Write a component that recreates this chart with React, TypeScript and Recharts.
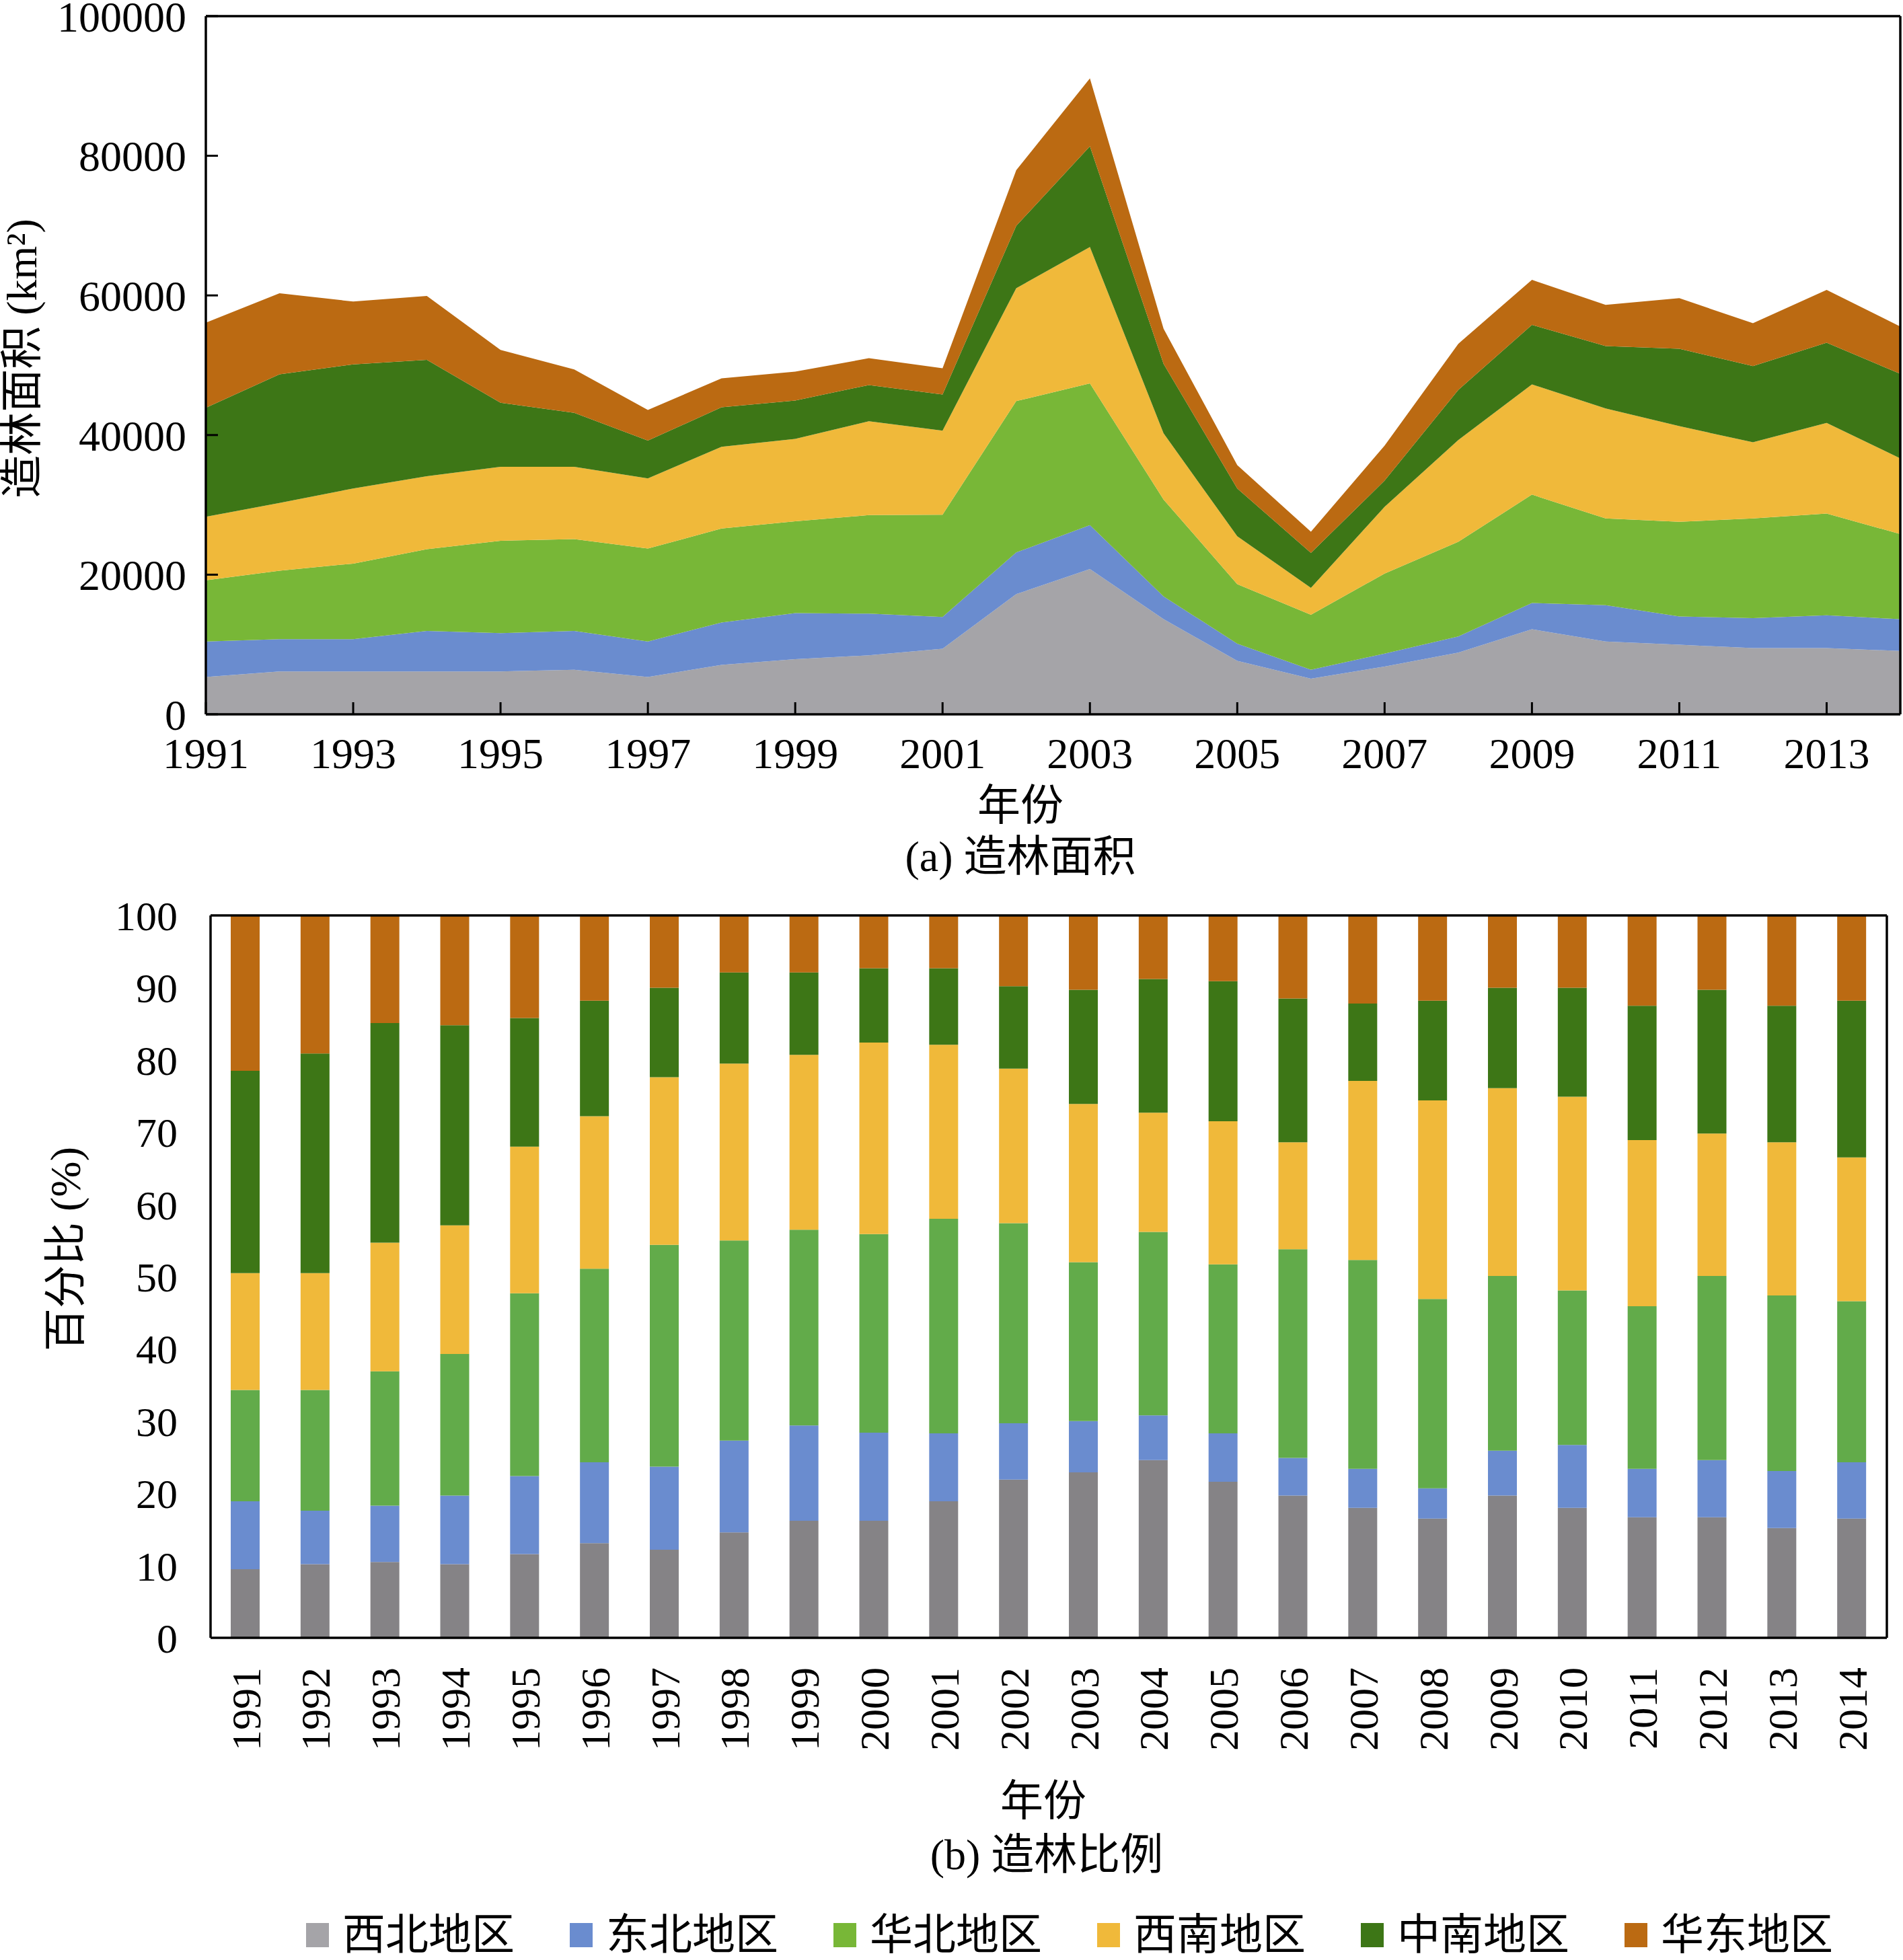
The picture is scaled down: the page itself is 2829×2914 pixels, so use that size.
import React from 'react'
import { AreaChart, Area, BarChart, Bar, XAxis, YAxis } from 'recharts'

const FONT = "'Liberation Serif', 'Noto Sans CJK SC', serif"

const years = [
  1991, 1992, 1993, 1994, 1995, 1996, 1997, 1998, 1999, 2000, 2001, 2002,
  2003, 2004, 2005, 2006, 2007, 2008, 2009, 2010, 2011, 2012, 2013, 2014,
]
const regions = ['西北地区', '东北地区', '华北地区', '西南地区', '中南地区', '华东地区']
const areaColors = ['#a5a4a8', '#6a8ccf', '#78b737', '#f0b93a', '#3d7616', '#bb6a12']
const barColors = ['#858386', '#6a8ccf', '#62ab4a', '#f0b93a', '#3d7616', '#bb6a12']

const areaXTicks = [1991, 1993, 1995, 1997, 1999, 2001, 2003, 2005, 2007, 2009, 2011, 2013]
const areaYTicks = [0, 20000, 40000, 60000, 80000, 100000]
const pctYTicks = [0, 10, 20, 30, 40, 50, 60, 70, 80, 90, 100]

// (a) afforestation area, km2, per region
const northwestArea = [5340, 6140, 6140, 6140, 6140, 6380, 5340, 7090, 7890, 8450, 9400, 17210, 20800, 13630, 7650, 5100, 6850, 8840, 12190, 10440, 9960, 9480, 9480, 9080]
const northeastArea = [5100, 4620, 4620, 5810, 5490, 5570, 5100, 6060, 6610, 5970, 4540, 5980, 6290, 3260, 2470, 1280, 1850, 2320, 3750, 5180, 4060, 4300, 4700, 4550]
const northArea = [8760, 9800, 10830, 11710, 13230, 13150, 13300, 13460, 13150, 14110, 14660, 21670, 20320, 13870, 8530, 7890, 11460, 13540, 15530, 12430, 13550, 14270, 14580, 12190]
const southwestArea = [9090, 9720, 10760, 10440, 10600, 10360, 10040, 11720, 11790, 13460, 12040, 16180, 19520, 9480, 6850, 3830, 9560, 14580, 15780, 15770, 13700, 10910, 12990, 10830]
const centralSouthArea = [15610, 18410, 17770, 16660, 9160, 7730, 5420, 5650, 5500, 5180, 5180, 8920, 14420, 9960, 6850, 5020, 3750, 7170, 8530, 8930, 11080, 10920, 11480, 12110]
const eastArea = [12200, 11630, 9000, 9160, 7570, 6210, 4390, 4150, 4140, 3830, 3740, 7970, 9730, 5020, 3350, 3030, 5020, 6620, 6450, 5900, 7250, 6140, 7570, 6780]

// (b) share of each region, %
const northwestPct = [9.5, 10.2, 10.5, 10.2, 11.6, 13.1, 12.2, 14.6, 16.2, 16.2, 18.9, 21.9, 22.9, 24.6, 21.6, 19.7, 18.0, 16.5, 19.7, 18.0, 16.7, 16.7, 15.2, 16.5]
const northeastPct = [9.4, 7.4, 7.8, 9.5, 10.8, 11.2, 11.5, 12.7, 13.2, 12.2, 9.4, 7.8, 7.1, 6.2, 6.7, 5.2, 5.4, 4.2, 6.2, 8.7, 6.7, 7.9, 7.9, 7.8]
const northPct = [15.4, 16.7, 18.6, 19.6, 25.3, 26.8, 30.7, 27.7, 27.1, 27.5, 29.7, 27.7, 22.0, 25.4, 23.4, 28.9, 28.9, 26.2, 24.2, 21.4, 22.5, 25.5, 24.3, 22.3]
const southwestPct = [16.2, 16.2, 17.8, 17.8, 20.3, 21.1, 23.2, 24.5, 24.2, 26.5, 24.1, 21.4, 21.9, 16.5, 19.8, 14.8, 24.8, 27.5, 26.0, 26.8, 23.0, 19.7, 21.2, 19.9]
const centralSouthPct = [28.0, 30.4, 30.4, 27.7, 17.8, 16.0, 12.4, 12.6, 11.4, 10.3, 10.6, 11.4, 15.8, 18.5, 19.4, 19.9, 10.7, 13.8, 13.9, 15.1, 18.6, 19.9, 18.9, 21.7]
const eastPct = [21.5, 19.1, 14.9, 15.2, 14.2, 11.8, 10.0, 7.9, 7.9, 7.3, 7.3, 9.8, 10.3, 8.8, 9.1, 11.5, 12.2, 11.8, 10.0, 10.0, 12.5, 10.3, 12.5, 11.8]

const areaSeries = [northwestArea, northeastArea, northArea, southwestArea, centralSouthArea, eastArea]
const pctSeries = [northwestPct, northeastPct, northPct, southwestPct, centralSouthPct, eastPct]

const areaRows = years.map((year, i) => {
  const row: Record<string, number> = { year }
  regions.forEach((r, k) => { row[r] = areaSeries[k][i] })
  return row
})

const pctRows = years.map((year, i) => {
  const row: Record<string, number | string> = { year: String(year) }
  regions.forEach((r, k) => { row[r] = pctSeries[k][i] })
  return row
})

const axisLine = { stroke: '#000', strokeWidth: 3.5 }
const tickLine = { stroke: '#000', strokeWidth: 3 }
const tickText = { fill: '#000', fontSize: 64, fontFamily: FONT }

const textStyle: React.CSSProperties = {
  position: 'absolute',
  fontFamily: FONT,
  fontSize: 64,
  color: '#000',
  whiteSpace: 'nowrap',
  lineHeight: 1,
}

function YearTick({ x, y, payload }: any) {
  return (
    <g transform={`translate(${x},${y})`}>
      <text transform="rotate(-90)" textAnchor="end" dy="0.35em" fontSize={62} fontFamily={FONT} fill="#000">
        {payload.value}
      </text>
    </g>
  )
}

function Caption({ x, y, text, rotate }: { x: number; y: number; text: string; rotate?: boolean }) {
  return (
    <div style={{ ...textStyle, left: x, top: y, transform: `translate(-50%, -50%)${rotate ? ' rotate(-90deg)' : ''}` }}>
      {text}
    </div>
  )
}

export default function App() {
  return (
    <div style={{ position: 'absolute', left: 0, top: 0, width: 2829, height: 2914, background: '#fff' }}>
      <div style={{ position: 'absolute', left: 0, top: 0 }}>
        <AreaChart width={2829} height={1170} data={areaRows} margin={{ top: 23, right: 3, left: 0, bottom: 0 }}>
          {regions.map((r, k) => (
            <Area
              key={r} type="linear" dataKey={r} stackId="a"
              stroke="none" fill={areaColors[k]} fillOpacity={1} isAnimationActive={false}
            />
          ))}
          <XAxis
            dataKey="year" type="number" domain={[1991, 2014]} ticks={areaXTicks} interval={0}
            tickSize={-18} tickMargin={53} height={108}
            axisLine={axisLine} tickLine={tickLine} tick={tickText}
          />
          <XAxis xAxisId="top" orientation="top" type="number" domain={[1991, 2014]} height={1} tick={false} tickLine={false} axisLine={axisLine} />
          <YAxis
            type="number" domain={[0, 100000]} ticks={areaYTicks} interval={0}
            tickSize={-18} tickMargin={47} width={306}
            axisLine={axisLine} tickLine={tickLine} tick={tickText}
          />
          <YAxis yAxisId="right" orientation="right" domain={[0, 100000]} width={1} tick={false} tickLine={false} axisLine={axisLine} />
        </AreaChart>
      </div>
      <Caption x={33} y={533} text="造林面积 (km²)" rotate />
      <Caption x={1517} y={1198} text="年份" />
      <Caption x={1517} y={1274} text="(a) 造林面积" />

      <div style={{ position: 'absolute', left: 0, top: 1300 }}>
        <BarChart width={2829} height={1350} data={pctRows} margin={{ top: 60, right: 23, left: 0, bottom: 0 }} barSize={43}>
          {regions.map((r, k) => (
            <Bar key={r} dataKey={r} stackId="p" fill={barColors[k]} isAnimationActive={false} />
          ))}
          <XAxis
            dataKey="year" interval={0} tickSize={0} tickMargin={44} height={215}
            axisLine={axisLine} tickLine={false} tick={(p: any) => <YearTick {...p} />}
          />
          <XAxis xAxisId="top" orientation="top" dataKey="year" height={1} tick={false} tickLine={false} axisLine={axisLine} />
          <YAxis
            type="number" domain={[0, 100]} ticks={pctYTicks} interval={0}
            tickSize={0} tickMargin={49} width={313}
            axisLine={axisLine} tickLine={false} tick={{ ...tickText, fontSize: 62 }}
          />
          <YAxis yAxisId="right" orientation="right" domain={[0, 100]} width={1} tick={false} tickLine={false} axisLine={axisLine} />
        </BarChart>
      </div>
      <Caption x={98} y={1857} text="百分比 (%)" rotate />
      <Caption x={1551} y={2678} text="年份" />
      <Caption x={1556} y={2758} text="(b) 造林比例" />

      <div style={{ position: 'absolute', left: 455, top: 2877, transform: 'translateY(-50%)', display: 'flex', alignItems: 'center', gap: 82 }}>
        {regions.map((r, k) => (
          <div key={r} style={{ display: 'flex', alignItems: 'center', gap: 20 }}>
            <div style={{ width: 34, height: 36, background: areaColors[k] }} />
            <span style={{ fontFamily: FONT, fontSize: 64, lineHeight: 1, color: '#000' }}>{r}</span>
          </div>
        ))}
      </div>
    </div>
  )
}
